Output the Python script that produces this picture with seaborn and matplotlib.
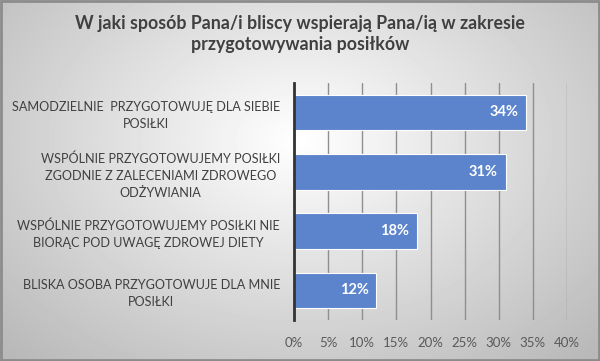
import numpy as np
import pandas as pd
import matplotlib
matplotlib.use("Agg")
import matplotlib.pyplot as plt
import seaborn as sns

# Chart values
categories = [
    "SAMODZIELNIE  PRZYGOTOWUJĘ DLA SIEBIE\nPOSIŁKI",
    "WSPÓLNIE PRZYGOTOWUJEMY POSIŁKI\nZGODNIE Z ZALECENIAMI ZDROWEGO\nODŻYWIANIA",
    "WSPÓLNIE PRZYGOTOWUJEMY POSIŁKI NIE\nBIORĄC POD UWAGĘ ZDROWEJ DIETY",
    "BLISKA OSOBA PRZYGOTOWUJE DLA MNIE\nPOSIŁKI",
]
shares = [34, 31, 18, 12]
x_ticks = [0, 5, 10, 15, 20, 25, 30, 35, 40]
x_tick_labels = [f"{t}%" for t in x_ticks]
title = "W jaki sposób Pana/i bliscy wspierają Pana/ią w zakresie\nprzygotowywania posiłków"

df = pd.DataFrame({"kategoria": categories, "udzial": shares})

sns.set_theme(style="white")
plt.rcParams["font.family"] = ["Lato", "DejaVu Sans"]

fig = plt.figure(figsize=(6, 3.61), dpi=100)

# radial grey gradient background like the original office chart
bg = fig.add_axes([0, 0, 1, 1], zorder=-10)
yy, xx = np.mgrid[0:361, 0:600]
r = np.sqrt(((xx - 300) / 420.0) ** 2 + ((yy - 140) / 300.0) ** 2)
shade = np.clip(1.0 - 0.28 * r, 0.72, 1.0)
bg.imshow(shade, cmap="gray", vmin=0, vmax=1, aspect="auto", extent=[0, 1, 0, 1])
bg.add_patch(plt.Rectangle((0.002, 0.004), 0.996, 0.992, fill=False,
                           edgecolor="#8c8c8c", lw=2, transform=bg.transAxes))
bg.set_axis_off()

ax = fig.add_axes([0.49, 0.1136, 0.455, 0.657])
ax.patch.set_alpha(0)
sns.barplot(data=df, x="udzial", y="kategoria", color="#5b84cc", saturation=1,
            width=0.6, edgecolor="white", linewidth=0.8, ax=ax, zorder=3)

ax.set_xlim(0, 40)
ax.set_xticks(x_ticks)
ax.set_xticklabels(x_tick_labels, fontsize=9.5, color="#595959")
ax.tick_params(axis="x", length=0, pad=12)
ax.tick_params(axis="y", length=0, pad=10)
for lbl in ax.get_yticklabels():
    lbl.set_fontsize(9.1)
    lbl.set_color("#404040")
    lbl.set_multialignment("center")
    lbl.set_linespacing(1.5)
ax.set_xlabel("")
ax.set_ylabel("")
ax.grid(axis="x", color="#8f8f8f", lw=1, zorder=0)
for s in ["top", "right", "bottom"]:
    ax.spines[s].set_visible(False)
ax.spines["left"].set_color("#333333")
ax.spines["left"].set_linewidth(2)
ax.spines["left"].set_zorder(5)

for i, v in enumerate(shares):
    ax.text(v - 1.1, i, f"{v}%", ha="right", va="center", color="white",
            fontsize=10.5, fontweight="bold", zorder=4)

fig.text(0.5, 0.905, title, ha="center", va="center", fontsize=12.8,
         fontweight="bold", color="#404040", linespacing=1.3)

fig.savefig("out.png", dpi=100)
